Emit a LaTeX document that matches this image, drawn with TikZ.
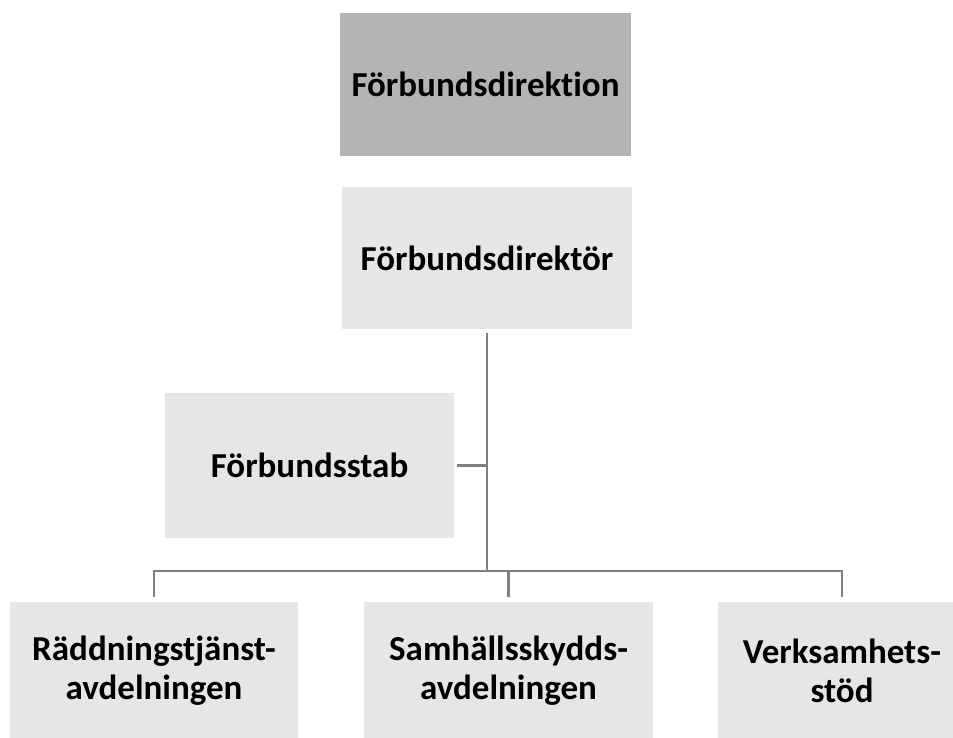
\documentclass[tikz,border=0pt]{standalone}
\usepackage{fontspec}
\setmainfont{Carlito}[Ligatures=CommonOff]
\begin{document}
\begin{tikzpicture}[x=1pt,y=-1pt,
  box/.style={fill=boxlight, draw=none, inner sep=0pt, align=center,
    font=\fontsize{35}{39}\selectfont\bfseries, text=black},
  conn/.style={draw=linegray, line width=2.9pt}]
\definecolor{boxlight}{HTML}{E6E6E6}
\definecolor{boxdark}{HTML}{B4B4B4}
\definecolor{linegray}{HTML}{808080}
\useasboundingbox[fill=white] (0,0) rectangle (953,737);
\node[box, fill=boxdark, minimum width=291pt, minimum height=143pt] (dion) at (485.5,84.5) {Förbundsdirektion};
\node[box, minimum width=290pt, minimum height=142pt] (dir) at (487,258) {Förbundsdirektör};
\node[box, minimum width=289pt, minimum height=145pt] (stab) at (309.5,465.5) {Förbundsstab};
\node[box, minimum width=288pt, minimum height=137pt] (b1) at (154,670.5) {Räddningstjänst-\\avdelningen};
\node[box, minimum width=289pt, minimum height=137pt] (b2) at (508.5,670.5) {Samhällsskydds-\\avdelningen};
\node[box, minimum width=248pt, minimum height=137pt] (b3) at (842,670.5) {Verksamhets-\\stöd};
\coordinate (j) at (487,571);
\draw[conn, shorten <=3.5pt] (dir.south) -- (j);
\draw[conn, shorten <=3pt] (stab.east) -- (stab.east -| j);
\draw[conn, shorten >=4.5pt] (j) -| (b1.north);
\draw[conn, shorten >=4.5pt] (j) -| (b3.north);
\draw[conn, shorten >=4.5pt] (b2.north |- j) -- (b2.north);
\end{tikzpicture}
\end{document}
